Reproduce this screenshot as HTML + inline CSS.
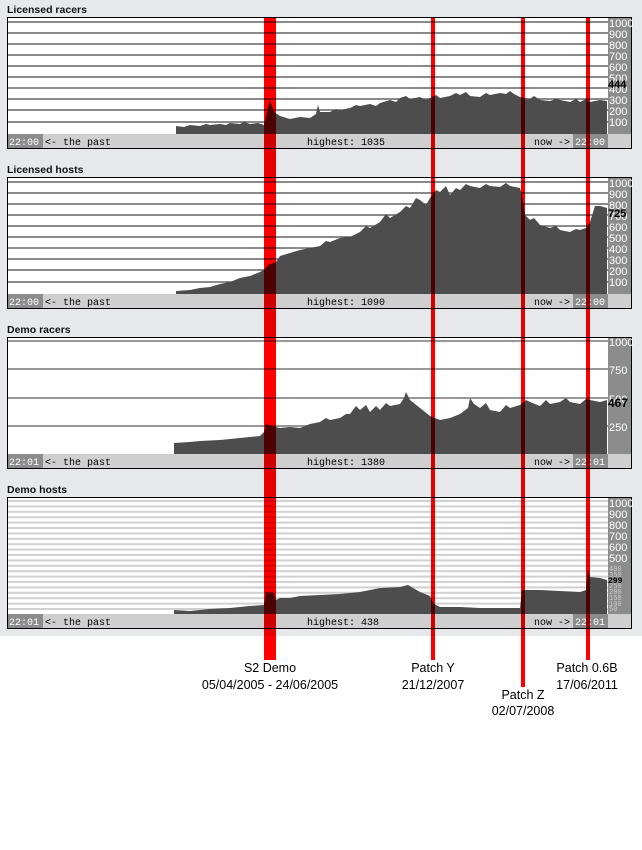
<!DOCTYPE html>
<html><head><style>
html,body{margin:0;padding:0;background:#fff}
svg{display:block}
.t{font:bold 10.5px "Liberation Sans",sans-serif;fill:#111}
.m{font:10px "Liberation Mono",monospace;fill:#000}
.w{font:10px "Liberation Mono",monospace;fill:#fff}
.r{font:11px "Liberation Sans",sans-serif;fill:#fff}
.s{font:12.5px "Liberation Sans",sans-serif;fill:#000}
</style></head><body>
<svg width="642" height="850" xmlns="http://www.w3.org/2000/svg">
<defs>
<pattern id="dh" x="0" y="500" width="10" height="5.4" patternUnits="userSpaceOnUse"><rect width="10" height="2" fill="#d0d0d0"/></pattern>
</defs>
<rect width="642" height="636" fill="#e6e8ec"/>

<g>
<text class="t" x="7" y="13">Licensed racers</text>
<rect x="7.5" y="17.5" width="624" height="131" fill="#fff" stroke="#000"/>
<rect x="608" y="18" width="23" height="116" fill="#8c8c8c"/>
<g stroke="#444" stroke-width="1.3">
<line x1="8" x2="608" y1="22" y2="22"/><line x1="8" x2="608" y1="33" y2="33"/><line x1="8" x2="608" y1="44" y2="44"/><line x1="8" x2="608" y1="55" y2="55"/><line x1="8" x2="608" y1="66" y2="66"/><line x1="8" x2="608" y1="77" y2="77"/><line x1="8" x2="608" y1="88" y2="88"/><line x1="8" x2="608" y1="99" y2="99"/><line x1="8" x2="608" y1="110" y2="110"/><line x1="8" x2="608" y1="122" y2="122"/>
</g>
<polygon fill="#4d4d4d" points="176,134 176,126 184,127 190,125 200,126 206,124 210,125 220,124 226,125 230,123 240,124 244,122 250,124 258,123 264,125 266,116 270,100 274,112 280,116 290,119 300,117 310,118 316,114 318,105 320,112 330,112 336,109 340,110 350,108 356,105 360,106 370,104 376,106 380,103 390,100 396,102 400,98 406,96 410,99 420,97 426,100 430,98 436,95 440,98 450,96 456,93 460,95 466,92 470,96 480,97 486,93 490,95 500,93 506,94 510,91 514,94 520,97 530,99 534,96 540,100 550,101 556,99 560,100 570,102 576,99 580,102 586,99 590,102 600,100 607,101 607,134"/>
<g class="r"><text x="609" y="27">1000</text><text x="609" y="38">900</text><text x="609" y="49">800</text><text x="609" y="60">700</text><text x="609" y="71">600</text><text x="609" y="82">500</text><text x="609" y="93">400</text><text x="609" y="104">300</text><text x="609" y="115">200</text><text x="609" y="126">100</text></g>
<text x="608" y="88" style="font:bold 11px 'Liberation Sans',sans-serif">444</text>
<rect x="8" y="134" width="623" height="14" fill="#cfcfcf"/>
<rect x="8" y="134" width="35" height="14" fill="#8c8c8c"/><text class="w" x="9" y="145">22:00</text>
<text class="m" x="45" y="145">&lt;- the past</text>
<text class="m" x="307" y="145">highest: 1035</text>
<text class="m" x="534" y="145">now -&gt;</text>
<rect x="573" y="134" width="35" height="14" fill="#8c8c8c"/><text class="w" x="575" y="145">22:00</text>
</g>

<g>
<text class="t" x="7" y="173">Licensed hosts</text>
<rect x="7.5" y="177.5" width="624" height="131" fill="#fff" stroke="#000"/>
<rect x="608" y="178" width="23" height="116" fill="#8c8c8c"/>
<g stroke="#444" stroke-width="1.3">
<line x1="8" x2="608" y1="182" y2="182"/><line x1="8" x2="608" y1="193" y2="193"/><line x1="8" x2="608" y1="204" y2="204"/><line x1="8" x2="608" y1="215" y2="215"/><line x1="8" x2="608" y1="226" y2="226"/><line x1="8" x2="608" y1="237" y2="237"/><line x1="8" x2="608" y1="248" y2="248"/><line x1="8" x2="608" y1="259" y2="259"/><line x1="8" x2="608" y1="270" y2="270"/><line x1="8" x2="608" y1="282" y2="282"/>
</g>
<polygon fill="#4d4d4d" points="176,294 176,291 190,290 200,288 210,287 220,284 230,282 240,278 250,276 260,272 264,270 268,265 276,262 280,256 290,253 300,250 310,248 320,246 326,241 330,242 340,238 350,237 356,234 360,232 366,226 370,228 380,222 386,214 390,218 400,212 406,206 410,208 416,198 420,200 426,205 430,198 436,190 440,192 446,186 450,195 456,188 460,190 466,184 470,186 480,188 486,184 490,186 500,187 506,183 510,186 520,188 522,195 525,215 530,220 534,218 540,225 550,228 556,226 560,230 570,232 576,229 580,230 586,228 590,222 595,206 600,206 607,208 607,294"/>
<g class="r"><text x="609" y="187">1000</text><text x="609" y="198">900</text><text x="609" y="209">800</text><text x="609" y="220">700</text><text x="609" y="231">600</text><text x="609" y="242">500</text><text x="609" y="253">400</text><text x="609" y="264">300</text><text x="609" y="275">200</text><text x="609" y="286">100</text></g>
<text x="608" y="217" style="font:bold 11px 'Liberation Sans',sans-serif">725</text>
<rect x="8" y="294" width="623" height="14" fill="#cfcfcf"/>
<rect x="8" y="294" width="35" height="14" fill="#8c8c8c"/><text class="w" x="9" y="305">22:00</text>
<text class="m" x="45" y="305">&lt;- the past</text>
<text class="m" x="307" y="305">highest: 1090</text>
<text class="m" x="534" y="305">now -&gt;</text>
<rect x="573" y="294" width="35" height="14" fill="#8c8c8c"/><text class="w" x="575" y="305">22:00</text>
</g>

<g>
<text class="t" x="7" y="333">Demo racers</text>
<rect x="7.5" y="337.5" width="624" height="131" fill="#fff" stroke="#000"/>
<rect x="608" y="338" width="23" height="116" fill="#8c8c8c"/>
<g stroke="#777" stroke-width="1.5">
<line x1="8" x2="608" y1="341" y2="341"/><line x1="8" x2="608" y1="369" y2="369"/><line x1="8" x2="608" y1="398" y2="398"/><line x1="8" x2="608" y1="426" y2="426"/>
</g>
<polygon fill="#4d4d4d" points="174,454 174,443 190,442 200,441 220,440 240,438 260,436 264,432 266,424 272,426 280,428 290,427 300,428 310,424 320,422 326,418 330,420 340,418 346,414 350,414 356,406 360,410 366,405 370,412 376,406 380,410 386,403 390,406 400,404 404,398 406,392 410,400 420,408 430,416 440,420 450,418 460,414 468,408 470,398 474,404 480,408 486,403 490,410 500,412 506,405 510,408 520,405 526,400 530,402 540,406 546,400 550,404 560,402 566,398 570,402 580,404 586,399 590,400 600,402 607,400 607,454"/>
<g class="r"><text x="609" y="346">1000</text><text x="609" y="374">750</text><text x="609" y="403">500</text><text x="609" y="431">250</text></g>
<text x="608" y="407" style="font:bold 12px 'Liberation Sans',sans-serif">467</text>
<rect x="8" y="454" width="623" height="14" fill="#cfcfcf"/>
<rect x="8" y="454" width="35" height="14" fill="#8c8c8c"/><text class="w" x="9" y="465">22:01</text>
<text class="m" x="45" y="465">&lt;- the past</text>
<text class="m" x="307" y="465">highest: 1380</text>
<text class="m" x="534" y="465">now -&gt;</text>
<rect x="573" y="454" width="35" height="14" fill="#8c8c8c"/><text class="w" x="575" y="465">22:01</text>
</g>

<g>
<text class="t" x="7" y="493">Demo hosts</text>
<rect x="7.5" y="497.5" width="624" height="131" fill="#fff" stroke="#000"/>
<rect x="8" y="500" width="600" height="112" fill="url(#dh)"/>
<rect x="608" y="498" width="23" height="116" fill="#8c8c8c"/>
<polygon fill="#4d4d4d" points="174,614 174,610 190,611 210,609 230,608 250,606 264,605 266,592 274,593 276,600 280,598 290,598 300,596 320,595 340,594 360,592 380,588 400,587 408,585 420,592 430,596 434,604 440,607 460,607 480,608 500,608 520,608 522,590 540,590 560,591 580,592 586,590 588,568 590,577 600,578 607,580 607,614"/>
<g class="r"><text x="609" y="507">1000</text><text x="609" y="518">900</text><text x="609" y="529">800</text><text x="609" y="540">700</text><text x="609" y="551">600</text><text x="609" y="562">500</text></g>
<g style="font:7px 'Liberation Mono',monospace;fill:#ccc"><text x="609" y="571">400</text><text x="609" y="577">350</text><text x="609" y="588">250</text><text x="609" y="594">200</text><text x="609" y="600">150</text><text x="609" y="606">100</text><text x="609" y="611">50</text></g>
<text x="608" y="583" style="font:bold 8px 'Liberation Mono',monospace">299</text>
<rect x="8" y="614" width="623" height="14" fill="#cfcfcf"/>
<rect x="8" y="614" width="35" height="14" fill="#8c8c8c"/><text class="w" x="9" y="625">22:01</text>
<text class="m" x="45" y="625">&lt;- the past</text>
<text class="m" x="307" y="625">highest: 438</text>
<text class="m" x="534" y="625">now -&gt;</text>
<rect x="573" y="614" width="35" height="14" fill="#8c8c8c"/><text class="w" x="575" y="625">22:01</text>
</g>

<g fill="#ff0000" style="mix-blend-mode:multiply">
<rect x="264" y="17" width="12" height="643"/>
<rect x="431" y="17" width="4" height="643"/>
<rect x="521" y="17" width="4" height="670"/>
<rect x="586" y="17" width="4" height="643"/>
</g>

<text class="s" x="270" y="672" text-anchor="middle">S2 Demo</text>
<text class="s" x="270" y="689" text-anchor="middle">05/04/2005 - 24/06/2005</text>
<text class="s" x="433" y="672" text-anchor="middle">Patch Y</text>
<text class="s" x="433" y="689" text-anchor="middle">21/12/2007</text>
<text class="s" x="523" y="699" text-anchor="middle">Patch Z</text>
<text class="s" x="523" y="715" text-anchor="middle">02/07/2008</text>
<text class="s" x="587" y="672" text-anchor="middle">Patch 0.6B</text>
<text class="s" x="587" y="689" text-anchor="middle">17/06/2011</text>
</svg>
</body></html>
